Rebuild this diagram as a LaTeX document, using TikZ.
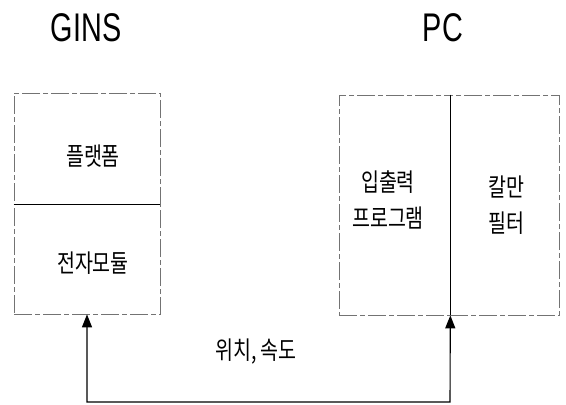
\documentclass[tikz,border=0pt]{standalone}
\usepackage{fontspec}
\newfontfamily\krfont[FakeStretch=0.78]{Noto Sans CJK KR}
\newfontfamily\hdfont[FakeStretch=0.72]{Liberation Sans}
\usetikzlibrary{arrows.meta}
\begin{document}
\begin{tikzpicture}[x=1pt,y=-1pt,
  box/.style={draw=black!55, line width=0.7pt, dash pattern=on 18pt off 3pt on 5pt off 3pt, inner sep=0pt},
  divider/.style={draw=black, line width=1.1pt},
  conn/.style={draw=black, line width=1.1pt, {Triangle[length=13pt,width=10pt]}-{Triangle[length=13pt,width=10pt]}},
  kr/.style={font=\krfont\fontsize{25}{36}\selectfont, align=center, inner sep=0pt},
  hd/.style={font=\hdfont\fontsize{40}{44}\selectfont, inner sep=0pt}]
\useasboundingbox (0,0) rectangle (566,405);
% titles
\node[hd] (gins) at (86,28) {GINS};
\node[hd] (pc) at (443,28) {PC};
% GINS boxes
\node[box, minimum width=146pt, minimum height=111pt] (plat) at (87,148.5) {};
\node[box, minimum width=146pt, minimum height=110pt] (elec) at (87,259) {};
\draw[divider] (plat.south west) -- (plat.south east);
\node[kr] (platlbl) at (93,156) {플랫폼};
\node[kr] (eleclbl) at (93,263) {전자모듈};
% PC boxes
\node[box, minimum width=111pt, minimum height=220pt] (io) at (394.5,205) {};
\node[box, minimum width=109pt, minimum height=220pt] (kal) at (504.5,205) {};
\draw[divider] (io.north east) -- (io.south east);
\node[kr] (iolbl) at (388,200) {입출력\\프로그램};
\node[kr] (kallbl) at (506,205.5) {칼만\\필터};
% connector
\coordinate (bl) at (87,402);
\coordinate (br) at (450,402);
\draw[conn] (elec.south) -- (bl) -- (br) -- (io.south east);
\node[kr] (pvlbl) at (256,352) {위치, 속도};
\end{tikzpicture}
\end{document}
